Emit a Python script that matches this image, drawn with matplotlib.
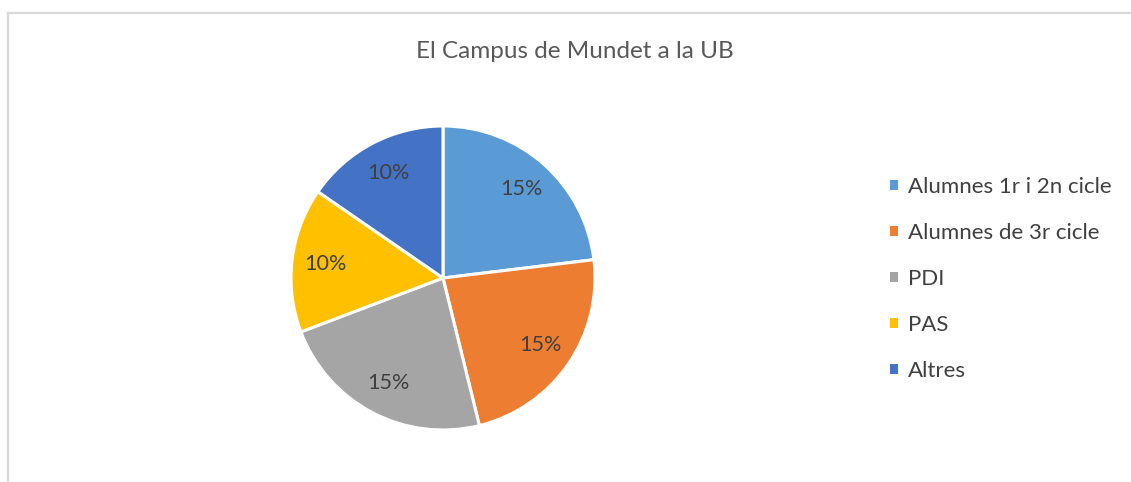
import matplotlib.pyplot as plt
from matplotlib.patches import Patch
from matplotlib.lines import Line2D

# dades del gràfic
categories = ['Alumnes 1r i 2n cicle', 'Alumnes de 3r cicle', 'PDI', 'PAS', 'Altres']
valors = [15, 15, 15, 10, 10]
colors = ['#5B9BD5', '#ED7D31', '#A5A5A5', '#FFC000', '#4472C4']
titol = 'El Campus de Mundet a la UB'

plt.rcParams['font.family'] = ['Lato', 'DejaVu Sans']

W, H = 1131, 482
fig = plt.figure(figsize=(W / 100, H / 100), dpi=100)

# marc gris (només es veuen els costats esquerre i superior)
fig.add_artist(Line2D([7.5 / W, 7.5 / W], [0, 1 - 12.5 / H], color='#D9D9D9', lw=1.6))
fig.add_artist(Line2D([7.5 / W, 1], [1 - 12.5 / H, 1 - 12.5 / H], color='#D9D9D9', lw=1.6))

# eix del pastís: centre (443, 278), radi 152 px
cx, cy, r = 443, 278, 152
ax = fig.add_axes([(cx - r) / W, (H - cy - r) / H, 2 * r / W, 2 * r / H])
wedges, texts, autotexts = ax.pie(
    valors, colors=colors, startangle=90, counterclock=False, radius=1,
    autopct=lambda p: f'{p * sum(valors) / 100:.0f}%', pctdistance=0.78,
    wedgeprops=dict(edgecolor='white', linewidth=2.2),
    textprops=dict(fontsize=15.6, color='#404040'))
ax.set_xlim(-1, 1)
ax.set_ylim(-1, 1)
ax.set_aspect('equal')
ax.axis('off')

fig.text(575 / W, 1 - 51 / H, titol, ha='center', va='center', fontsize=17.5, color='#595959')

handles = [Patch(facecolor=c, edgecolor='none') for c in colors]
fig.legend(handles, categories, loc='center left', bbox_to_anchor=(890 / W, 1 - 279 / H),
           frameon=False, fontsize=16, labelcolor='#404040', borderpad=0, borderaxespad=0,
           handlelength=0.36, handleheight=0.36, handletextpad=0.45, labelspacing=1.17)

fig.savefig('out.png', dpi=100, facecolor='white')
